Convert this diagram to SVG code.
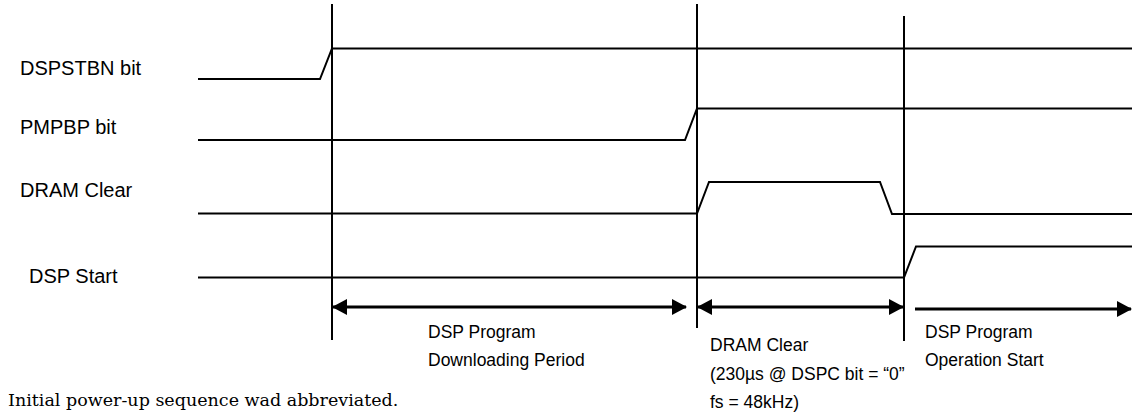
<svg xmlns="http://www.w3.org/2000/svg" width="1132" height="415" viewBox="0 0 1132 415">
<style>
.sig{fill:none;stroke:#000;stroke-width:2;stroke-linejoin:miter}
.vl{stroke:#000;stroke-width:2}
.arr{stroke:#000;stroke-width:3;fill:none}
.lbl{font-family:"Liberation Sans",Arial,sans-serif;font-size:17.5px;fill:#000}
.sl{font-family:"Liberation Sans",Arial,sans-serif;font-size:20px;fill:#000}
.note{font-family:"DejaVu Serif",serif;font-size:17.5px;fill:#000}
</style>
<defs>
<marker id="ah" markerUnits="userSpaceOnUse" markerWidth="15" markerHeight="16" viewBox="0 0 15 16" refX="14" refY="8" orient="auto-start-reverse">
<path d="M0,0 L15,8 L0,16 Z" fill="#000"/>
</marker>
</defs>
<rect width="1132" height="415" fill="#fff"/>
<g id="signals">
<g id="sig-dspstbn">
<text class="sl" x="20" y="75">DSPSTBN bit</text>
<path class="sig" d="M198,79 H320 L332,48.5 H1132"/>
</g>
<g id="sig-pmpbp">
<text class="sl" x="20" y="134">PMPBP bit</text>
<path class="sig" d="M198,140 H685 L697,108.5 H1132"/>
</g>
<g id="sig-dramclear">
<text class="sl" x="20" y="197">DRAM Clear</text>
<path class="sig" d="M198,213.5 H697 L709,182 H880 L892,214 H1132"/>
</g>
<g id="sig-dspstart">
<text class="sl" x="29" y="283">DSP Start</text>
<path class="sig" d="M198,277.5 H904 L916,246.5 H1132"/>
</g>
</g>
<g id="markers-lines">
<line class="vl" x1="332" y1="4" x2="332" y2="340"/>
<line class="vl" x1="697" y1="4" x2="697" y2="328"/>
<line class="vl" x1="904" y1="16" x2="904" y2="341"/>
</g>
<g id="connectors">
<line class="arr" x1="333" y1="307" x2="686" y2="307" marker-start="url(#ah)" marker-end="url(#ah)"/>
<line class="arr" x1="698" y1="307" x2="903" y2="307" marker-start="url(#ah)" marker-end="url(#ah)"/>
<line class="arr" x1="915" y1="309" x2="1131" y2="309" marker-end="url(#ah)"/>
</g>
<g id="period-download">
<text class="lbl" x="428" y="338">DSP Program</text>
<text class="lbl" x="428" y="366">Downloading Period</text>
</g>
<g id="period-dramclear">
<text class="lbl" x="710" y="351">DRAM Clear</text>
<text class="lbl" x="710" y="380">(230µs @ DSPC bit = “0”</text>
<text class="lbl" x="710" y="408">fs = 48kHz)</text>
</g>
<g id="period-operation">
<text class="lbl" x="925" y="338">DSP Program</text>
<text class="lbl" x="925" y="366">Operation Start</text>
</g>
<text class="note" x="8" y="406">Initial power-up sequence wad abbreviated.</text>
</svg>
